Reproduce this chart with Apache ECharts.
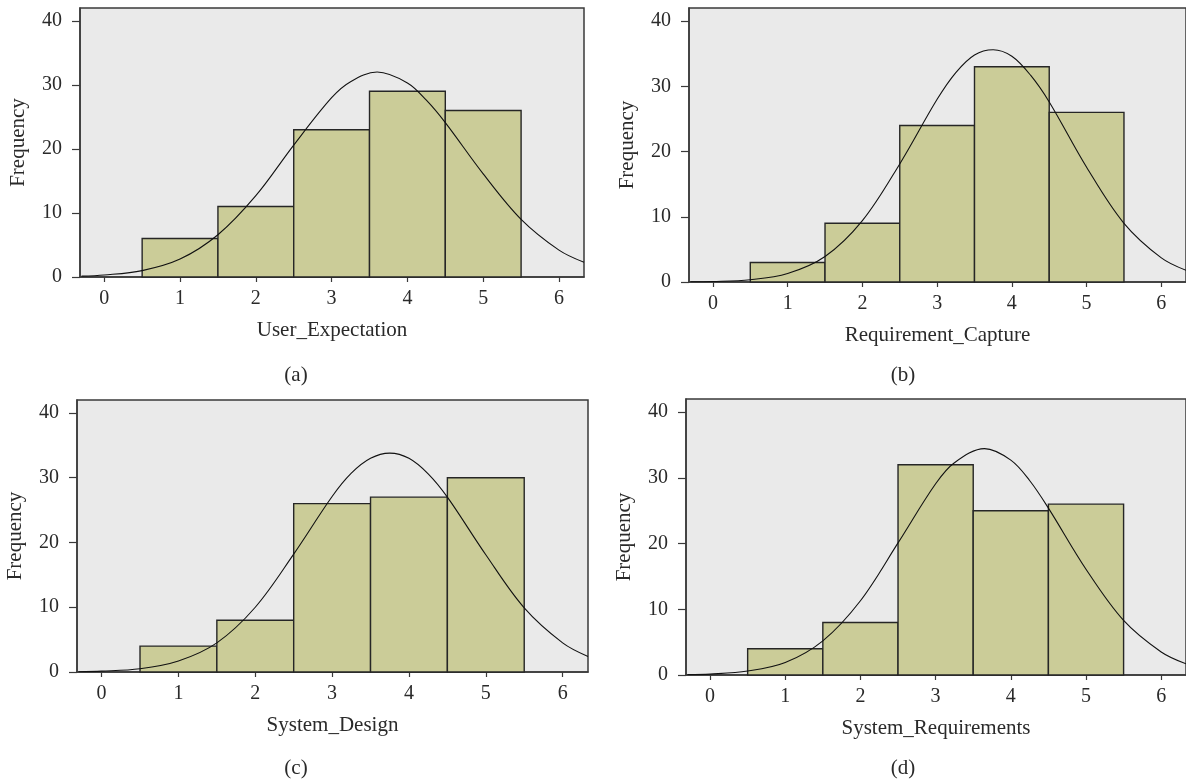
<!DOCTYPE html>
<html>
<head>
<meta charset="utf-8">
<script src="https://cdn.jsdelivr.net/npm/echarts@6/dist/echarts.min.js"></script>
<style>
  html, body { margin: 0; padding: 0; background: #fff; }
  #main { width: 1186px; height: 782px; }
</style>
</head>
<body>
<div id="main"></div>
<script>
const binLeft = [0.5, 1.5, 2.5, 3.5, 4.5];
const binRight = [1.5, 2.5, 3.5, 4.5, 5.5];

const userExpectationFreq = [6, 11, 23, 29, 26];
const requirementCaptureFreq = [3, 9, 24, 33, 26];
const systemDesignFreq = [4, 8, 26, 27, 30];
const systemRequirementsFreq = [4, 8, 32, 25, 26];

// normal curves
const userExpectationCurveX = [-0.3, 0, 0.5, 1, 1.5, 2, 2.5, 3, 3.25, 3.6, 4, 4.25, 4.5, 5, 5.5, 6, 6.33];
const userExpectationCurve = [0.14, 0.31, 1.0, 2.8, 6.6, 12.7, 20.6, 28.0, 30.5, 32.0, 30.3, 27.6, 24.1, 16.1, 9.0, 4.2, 2.3];
const requirementCaptureCurveX = [-0.3, 0, 0.5, 1, 1.5, 2, 2.5, 3, 3.25, 3.5, 3.75, 4, 4.25, 4.5, 5, 5.5, 6, 6.33];
const requirementCaptureCurve = [0.03, 0.07, 0.35, 1.3, 3.9, 9.4, 18.1, 28.0, 32.1, 34.8, 35.6, 34.6, 31.7, 27.6, 17.6, 9.0, 3.7, 1.8];
const systemDesignCurveX = [-0.3, 0, 0.5, 1, 1.5, 2, 2.5, 3, 3.25, 3.5, 3.75, 4, 4.25, 4.5, 5, 5.5, 6, 6.33];
const systemDesignCurve = [0.05, 0.13, 0.5, 1.7, 4.5, 10.0, 18.2, 27.1, 30.7, 33.0, 33.8, 33.0, 30.6, 27.0, 18.1, 9.9, 4.5, 2.4];
const systemRequirementsCurveX = [-0.3, 0, 0.5, 1, 1.5, 2, 2.5, 3, 3.25, 3.65, 4, 4.25, 4.5, 5, 5.5, 6, 6.33];
const systemRequirementsCurve = [0.06, 0.14, 0.6, 1.9, 5.2, 11.3, 20.1, 29.1, 32.3, 34.45, 32.7, 29.6, 25.4, 16.1, 8.3, 3.5, 1.7];

const xTicks = [0, 1, 2, 3, 4, 5, 6];
const yTicks = [0, 10, 20, 30, 40];

const axisNames = ['User_Expectation', 'Requirement_Capture', 'System_Design', 'System_Requirements'];
const captions = ['(a)', '(b)', '(c)', '(d)'];

const panels = [
  { freq: userExpectationFreq, cx: userExpectationCurveX, cy: userExpectationCurve, grid: { left: 80, top: 8, width: 504, height: 269 }, cap: [296, 375] },
  { freq: requirementCaptureFreq, cx: requirementCaptureCurveX, cy: requirementCaptureCurve, grid: { left: 689, top: 8, width: 503, height: 274 }, cap: [903, 375] },
  { freq: systemDesignFreq, cx: systemDesignCurveX, cy: systemDesignCurve, grid: { left: 77, top: 400, width: 511, height: 272 }, cap: [296, 768] },
  { freq: systemRequirementsFreq, cx: systemRequirementsCurveX, cy: systemRequirementsCurve, grid: { left: 686, top: 399, width: 507, height: 276 }, cap: [903, 768] }
];

const font = 'Liberation Serif';
const textColor = '#2a2a2a';
const lineColor = '#3a3a3a';

const grid = [], xAxis = [], yAxis = [], series = [], graphic = [];

panels.forEach((p, i) => {
  grid.push(Object.assign({
    show: true,
    backgroundColor: '#eaeaea',
    borderColor: lineColor,
    borderWidth: 1.5
  }, p.grid));

  xAxis.push({
    type: 'value',
    gridIndex: i,
    min: -0.32,
    max: 6.33,
    name: axisNames[i],
    nameLocation: 'middle',
    nameGap: 43,
    nameTextStyle: { fontFamily: font, fontSize: 21, color: textColor },
    splitLine: { show: false },
    axisLine: { onZero: false, lineStyle: { color: lineColor, width: 1.5 } },
    axisTick: { customValues: xTicks, length: 5, lineStyle: { color: lineColor, width: 1.2 } },
    axisLabel: { customValues: xTicks, margin: 12, fontFamily: font, fontSize: 20, color: textColor }
  });

  yAxis.push({
    type: 'value',
    gridIndex: i,
    min: 0,
    max: 42,
    name: 'Frequency',
    nameLocation: 'middle',
    nameGap: 51,
    nameTextStyle: { fontFamily: font, fontSize: 21, color: textColor },
    splitLine: { show: false },
    axisLine: { show: true, onZero: false, lineStyle: { color: lineColor, width: 1.5 } },
    axisTick: { show: true, customValues: yTicks, length: 8, lineStyle: { color: lineColor, width: 1.2 } },
    axisLabel: { customValues: yTicks, margin: 18, fontFamily: font, fontSize: 20, color: textColor }
  });

  series.push({
    type: 'custom',
    xAxisIndex: i,
    yAxisIndex: i,
    encode: { x: [0, 1], y: 2 },
    data: p.freq.map((f, k) => [binLeft[k], binRight[k], f]),
    renderItem: function (params, api) {
      const p0 = api.coord([api.value(0), api.value(2)]);
      const p1 = api.coord([api.value(1), 0]);
      return {
        type: 'rect',
        shape: { x: p0[0], y: p0[1], width: p1[0] - p0[0], height: p1[1] - p0[1] },
        style: { fill: '#cbcc98', stroke: '#262626', lineWidth: 1.4 }
      };
    },
    silent: true,
    z: 2
  });

  series.push({
    type: 'line',
    xAxisIndex: i,
    yAxisIndex: i,
    data: p.cx.map((x, k) => [x, p.cy[k]]),
    smooth: 0.35,
    showSymbol: false,
    lineStyle: { color: '#111', width: 1.1 },
    silent: true,
    z: 3
  });

  graphic.push({
    type: 'text',
    x: p.cap[0],
    y: p.cap[1],
    style: {
      text: captions[i],
      font: '21px "' + font + '"',
      fill: textColor,
      textAlign: 'center',
      textVerticalAlign: 'middle'
    }
  });
});

const chart = echarts.init(document.getElementById('main'));
chart.setOption({
  animation: false,
  grid: grid,
  xAxis: xAxis,
  yAxis: yAxis,
  series: series,
  graphic: graphic
});
</script>
</body>
</html>
